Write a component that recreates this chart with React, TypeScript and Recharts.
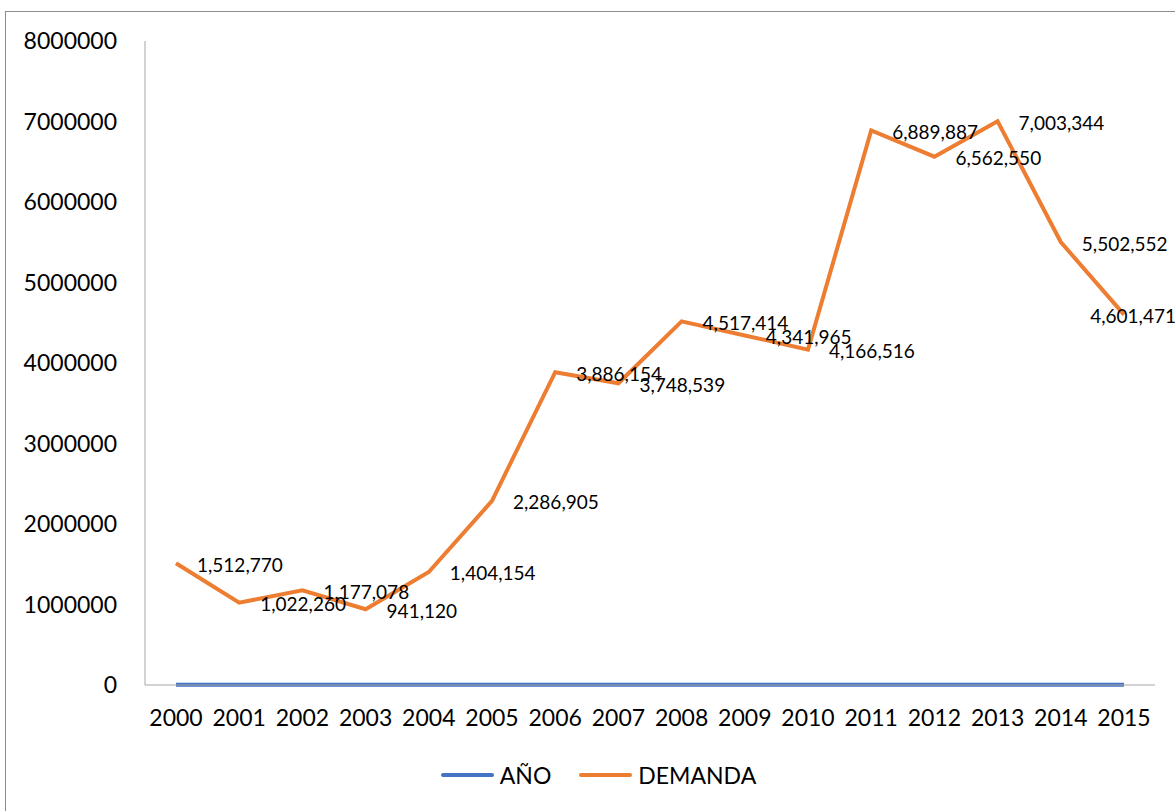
import React from 'react';
import { LineChart, Line, XAxis, YAxis, LabelList } from 'recharts';

const years = ['2000', '2001', '2002', '2003', '2004', '2005', '2006', '2007', '2008', '2009', '2010', '2011', '2012', '2013', '2014', '2015'];
const anoValues = [2000, 2001, 2002, 2003, 2004, 2005, 2006, 2007, 2008, 2009, 2010, 2011, 2012, 2013, 2014, 2015];
const demandaValues = [1512770, 1022260, 1177078, 941120, 1404154, 2286905, 3886154, 3748539, 4517414, 4341965, 4166516, 6889887, 6562550, 7003344, 5502552, 4601471];
const yTicks = [0, 1000000, 2000000, 3000000, 4000000, 5000000, 6000000, 7000000, 8000000];

const data = years.map((y, i) => ({ name: y, ano: anoValues[i], demanda: demandaValues[i] }));

const FONT = 'Lato, "Open Sans", sans-serif';

const DemandLabel = (props: any) => {
  const { x, y, value, index } = props;
  const last = index === demandaValues.length - 1;
  return (
    <text
      x={last ? x + 52 : x + 21}
      y={y + 1}
      textAnchor={last ? 'end' : 'start'}
      dominantBaseline="central"
      fontFamily={FONT}
      fontSize={19}
      fill="#000"
    >
      {Number(value).toLocaleString('en-US')}
    </text>
  );
};

const ChartLegend = () => {
  const items = [
    { label: 'AÑO', color: '#4472C4' },
    { label: 'DEMANDA', color: '#ED7D31' },
  ];
  return (
    <div style={{ position: 'absolute', top: 761, left: 0, width: 1175, display: 'flex', justifyContent: 'center', alignItems: 'center', fontFamily: FONT, fontSize: 23, color: '#000', paddingLeft: 22, boxSizing: 'border-box' }}>
      {items.map((it, i) => (
        <div key={it.label} style={{ display: 'flex', alignItems: 'center', marginLeft: i ? 28 : 0 }}>
          <span style={{ display: 'inline-block', width: 53, height: 4, borderRadius: 2, background: it.color, marginRight: 6 }} />
          <span>{it.label}</span>
        </div>
      ))}
    </div>
  );
};

const App: React.FC = () => {
  return (
    <div style={{ position: 'absolute', left: 0, top: 0, width: 1175, height: 811, overflow: 'hidden', background: '#fff' }}>
      <div style={{ position: 'absolute', left: 5, top: 11, width: 1200, height: 850, border: '1px solid #8c8c8c' }} />
      <div style={{ position: 'absolute', left: 0, top: 0 }}>
        <LineChart width={1175} height={811} data={data} margin={{ top: 41, right: 20, bottom: 0, left: 5 }}>
          <XAxis
            dataKey="name"
            padding={{ left: 31, right: 31 }}
            axisLine={{ stroke: '#a6a6a6' }}
            tickLine={false}
            tickSize={0}
            tickMargin={25}
            height={126}
            tick={{ fontFamily: FONT, fontSize: 23, fill: '#000' }}
            interval={0}
          />
          <YAxis
            domain={[0, 8000000]}
            ticks={yTicks}
            width={140}
            axisLine={{ stroke: '#a6a6a6' }}
            tickLine={false}
            tickSize={0}
            tickMargin={28}
            tick={{ fontFamily: FONT, fontSize: 23, fill: '#000' }}
          />
          <Line dataKey="ano" name="AÑO" stroke="#4472C4" strokeWidth={4} dot={false} isAnimationActive={false} />
          <Line dataKey="demanda" name="DEMANDA" stroke="#ED7D31" strokeWidth={4} dot={false} isAnimationActive={false}>
            <LabelList dataKey="demanda" content={<DemandLabel />} />
          </Line>
        </LineChart>
      </div>
      <ChartLegend />
    </div>
  );
};

export default App;
